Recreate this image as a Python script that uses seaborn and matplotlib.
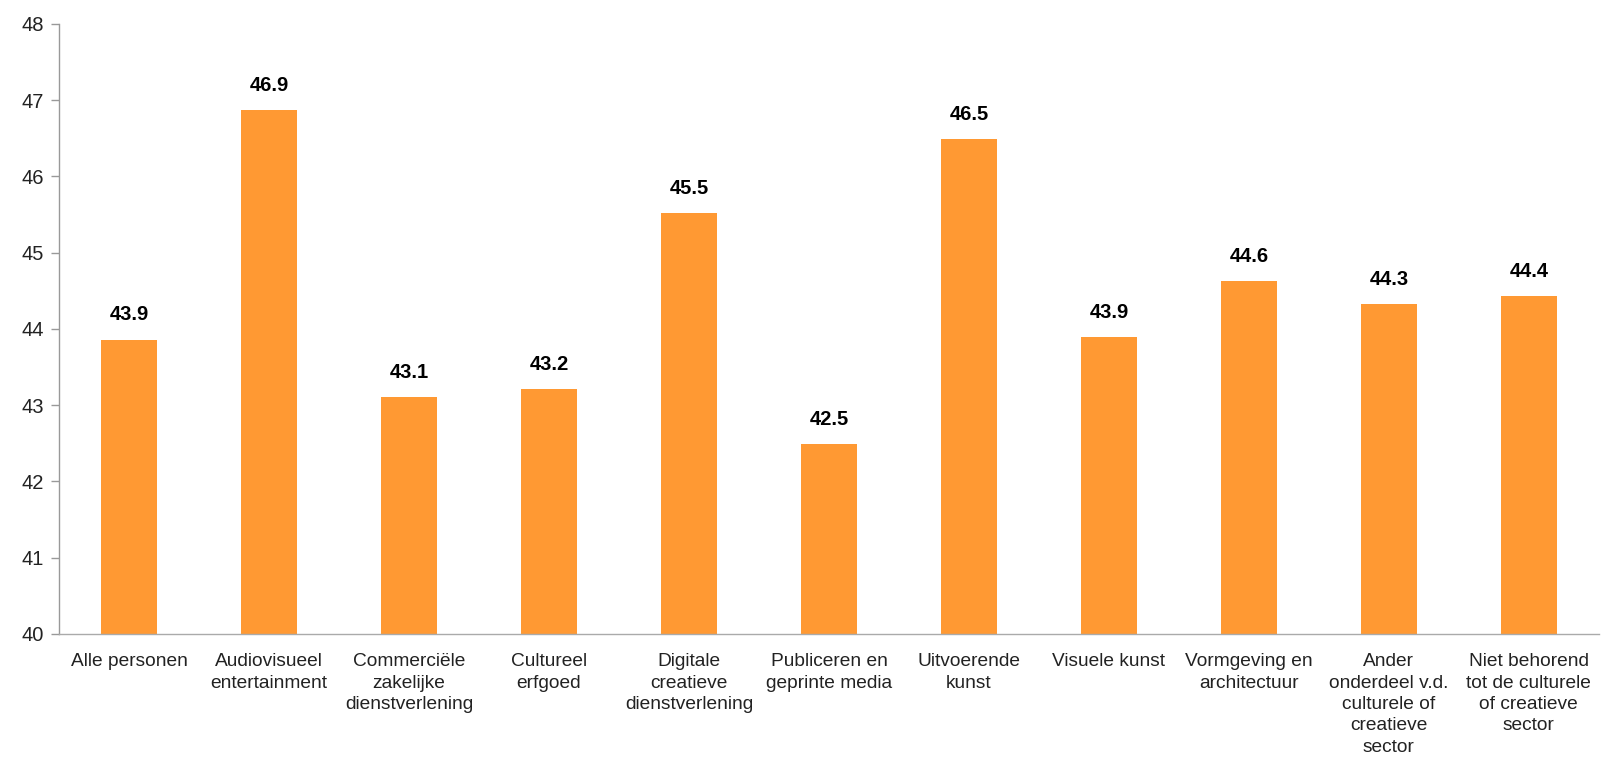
import matplotlib
matplotlib.use("Agg")
import matplotlib.pyplot as plt
import seaborn as sns
import pandas as pd

categories = [
    "Alle personen",
    "Audiovisueel\nentertainment",
    "Commerciële\nzakelijke\ndienstverlening",
    "Cultureel\nerfgoed",
    "Digitale\ncreatieve\ndienstverlening",
    "Publiceren en\ngeprinte media",
    "Uitvoerende\nkunst",
    "Visuele kunst",
    "Vormgeving en\narchitectuur",
    "Ander\nonderdeel v.d.\nculturele of\ncreatieve\nsector",
    "Niet behorend\ntot de culturele\nof creatieve\nsector",
]
values = [43.86, 46.87, 43.11, 43.21, 45.52, 42.49, 46.49, 43.89, 44.63, 44.33, 44.43]
y_ticks = [40, 41, 42, 43, 44, 45, 46, 47, 48]

sns.set_theme(style="white")
plt.rcParams["font.family"] = ["Liberation Sans", "DejaVu Sans"]

df = pd.DataFrame({"sector": categories, "value": values})

fig = plt.figure(figsize=(16.09, 7.59), dpi=100)
ax = fig.add_axes([0.0367, 0.1647, 0.957, 0.8037])

sns.barplot(data=df, x="sector", y="value", color="#FF9933", saturation=1,
            width=0.4, ax=ax, edgecolor="none")

ax.set_ylim(40, 48)
ax.set_yticks(y_ticks)
ax.set_xlim(-0.5, len(categories) - 0.5)
ax.set_xlabel("")
ax.set_ylabel("")

for i, v in enumerate(values):
    ax.annotate(f"{v:.1f}", xy=(i, v), xytext=(0, 11), textcoords="offset points",
                ha="center", va="bottom", fontsize=14.5, fontweight="bold",
                color="#000000")

ax.tick_params(axis="y", which="major", left=True, length=6, width=1,
               color="#999999", labelsize=14.5, labelcolor="#222222", pad=5)
ax.tick_params(axis="x", which="major", bottom=False, labelsize=13.8,
               labelcolor="#222222", pad=8)
for lbl in ax.get_xticklabels():
    lbl.set_linespacing(1.33)
    lbl.set_verticalalignment("top")

for side in ["top", "right"]:
    ax.spines[side].set_visible(False)
ax.spines["left"].set_color("#999999")
ax.spines["bottom"].set_color("#AAAAAA")
ax.spines["left"].set_linewidth(1)
ax.spines["bottom"].set_linewidth(1)

fig.savefig("out.png", dpi=100, facecolor="white")
